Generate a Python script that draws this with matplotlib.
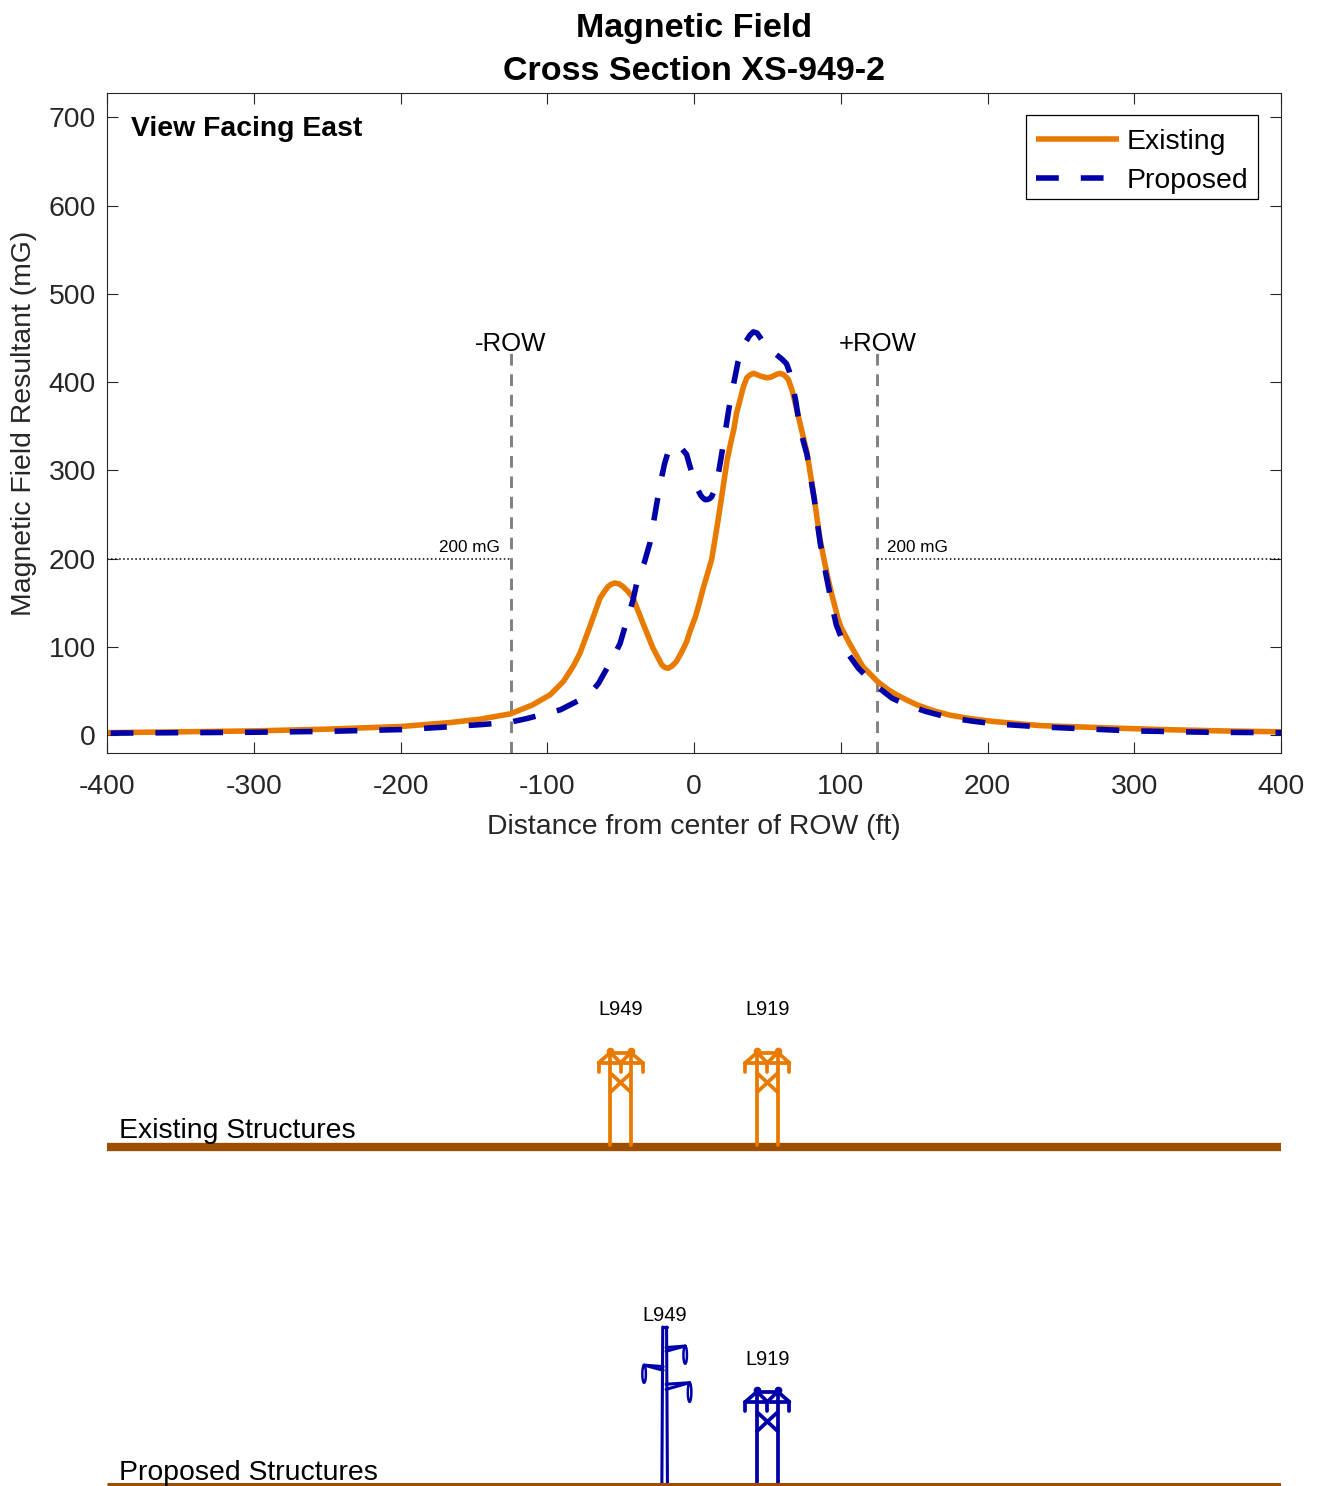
"""Magnetic field cross section XS-949-2 with structure elevations below."""

import matplotlib
matplotlib.use("Agg")
import matplotlib.pyplot as plt
from matplotlib.lines import Line2D
from matplotlib.patches import Ellipse, Rectangle

matplotlib.rcParams["font.family"] = ["Liberation Sans", "DejaVu Sans"]
matplotlib.rcParams["axes.unicode_minus"] = False

# profiles
existing_x = [-400, -350, -300, -250, -200, -166, -145, -125, -110, -98, -89, -82.4, -77.7, -71, -64, -61, -58.6, -56.5,
              -54, -51, -48.4, -45, -41.6, -34.8, -28, -22, -20, -17.6, -15, -12, -8.5, -5, -2.5, 0.7, 3.5, 6, 9, 12,
              14.5, 17, 20, 22.6, 25, 27.3, 29, 31.4, 33.7, 36, 38, 40.4, 43, 45, 47, 49.7, 52, 54, 56.5, 58.7, 61.5,
              64.3, 67, 69, 73, 75, 77, 79.5, 82, 84, 86, 88.5, 91, 93.5, 96, 98, 100, 106, 115, 125, 132, 138, 145,
              152, 163, 174, 188, 204, 236, 281, 320, 360, 400]
existing_y = [3, 4, 5, 7, 10, 14.5, 18.5, 24.4, 34.5, 46, 61, 78, 93, 123, 155.7, 163, 168.5, 171,
              172.5, 171.5, 168.5, 163, 155.7, 127, 99, 80, 77, 76, 78.5, 83.6, 94, 106, 119, 133, 149, 165, 182, 199,
              224, 250, 283, 312, 331, 348, 365, 380, 395, 405, 408, 410, 408.5, 407, 406, 405, 405.5, 407, 409, 410, 408,
              403, 390, 376, 348, 334, 320, 294, 268, 244, 221, 200, 180, 162, 146, 133, 123, 104, 78, 61, 52, 46, 40,
              34.5, 28, 23, 19, 15.7, 11, 8.5, 6.5, 5, 4]
proposed_x = [-400, -300, -250, -200, -175, -144, -125, -114, -100, -91, -84.5, -78, -72, -68, -65, -62, -58.6, -54,
              -50.4, -46.3, -41.6, -38.4, -34, -30, -25, -22.5, -20, -18, -16, -13.5, -11, -8, -5, -3, -1, 1, 3, 4.5, 6,
              7.5, 9, 10.5, 12, 13.5, 15, 17, 19, 21.5, 24, 27, 30, 32.5, 35, 38, 40.4, 43, 47, 50.7, 54, 57, 60, 63, 65,
              67, 69.5, 72, 74.5, 77, 79.5, 82, 84, 86, 89, 92, 94.5, 97, 101, 106, 112, 118.6, 122, 125, 135, 145, 158,
              174, 190, 205, 236, 266, 300, 350, 400]
proposed_y = [2.5, 3.5, 4.5, 6.5, 8.8, 12.3, 15, 19, 25, 29, 34.5, 40, 47, 53, 59, 68, 78, 92,
              104, 127, 153, 177, 195, 218, 266, 289, 308, 319, 327, 329, 328, 324, 318, 306, 295, 285, 277, 272, 269,
              267, 267, 268, 270, 276, 284, 300, 320, 346, 372, 398, 423, 436, 445, 453, 457, 455.6, 446, 438, 434, 430, 426, 421, 412,
              399, 377, 350, 333, 318, 292, 267, 241, 218, 190, 165, 143, 125, 108, 90, 76, 65, 59, 55, 42, 34.5, 27,
              20, 16, 13, 9.6, 7.4, 5, 3.5, 3]

x_ticks = [-400, -300, -200, -100, 0, 100, 200, 300, 400]
y_ticks = [0, 100, 200, 300, 400, 500, 600, 700]
row_edges = [-125, 125]
row_labels = ["-ROW", "+ROW"]
limit_mg = 200

# lattice tower outline, feet from centre line and ground
lattice_segments = [
    ((-7, 0), (-7, 64)), ((7, 0), (7, 64)), ((-7, 62.5), (7, 62.5)),
    ((-15, 56), (15, 56)), ((-15, 56), (-7, 63)), ((15, 56), (7, 63)),
    ((-7, 63), (0, 56)), ((7, 63), (0, 56)),
    ((-7, 49), (7, 36)), ((7, 49), (-7, 36)),
    ((-15, 56), (-15, 50)), ((0, 56), (0, 50)), ((15, 56), (15, 50)),
]
lattice_nodes = [(-7, 64), (7, 64)]
# steel monopole with three arms
pole_segments = [
    ((-1.9, 0), (-1.3, 107)), ((1.9, 0), (1.3, 107)), ((-1.3, 107), (1.3, 107)),
    ((1, 93), (14, 94)), ((1, 90.5), (14, 94)),
    ((-1, 80), (-14, 81)), ((-1, 77.5), (-14, 81)),
    ((1, 68), (17, 69)), ((1, 64.5), (17, 69)),
]
pole_insulators = [(14, 88, 12), (-14, 75, 12), (17, 62.5, 13)]

existing_towers = [-50, 50]
proposed_lattice = [50]
proposed_pole = [-20]

orange = "#e87a00"
blue = "#0000a8"
ground = "#9c4f00"
dark = "#262626"

W, H = 1317, 1486
FT = 1174 / 800  # px per foot in the lower panels


def px_axes(left, top, right, bottom):
    return fig.add_axes([left / W, 1 - bottom / H, (right - left) / W, (bottom - top) / H])


def draw_lattice(ax, x0, color):
    for a, b in lattice_segments:
        ax.plot([x0 + a[0], x0 + b[0]], [a[1], b[1]], color=color, lw=2.7, solid_capstyle="round")
    for nx, ny in lattice_nodes:
        ax.plot(x0 + nx, ny, "o", color=color, ms=4.5)


def draw_pole(ax, x0, color):
    for a, b in pole_segments:
        ax.plot([x0 + a[0], x0 + b[0]], [a[1], b[1]], color=color, lw=2.2, solid_capstyle="round")
    for ix, iy, ih in pole_insulators:
        ax.add_patch(Ellipse((x0 + ix, iy), 2.4, ih, fill=False, ec=color, lw=1.8))


def structure_panel(top, ground_px, bottom):
    ax = px_axes(107, top, 1281, bottom)
    ax.set_xlim(-400, 400)
    ax.set_ylim((ground_px - bottom) / FT, (ground_px - top) / FT)
    ax.axis("off")
    return ax


fig = plt.figure(figsize=(W / 100, H / 100), dpi=100)

ax = px_axes(107, 93, 1281, 753)
ax.set_xlim(-400, 400)
ax.set_ylim(-20, 727.5)

for edge, label in zip(row_edges, row_labels):
    ax.plot([edge, edge], [-20, 433], color="#808080", lw=2.1, ls=(0, (4, 3)))
    ax.text(edge, 429.5, label, ha="center", va="bottom", fontsize=18.5, color="black")
ax.plot([-400, row_edges[0]], [limit_mg, limit_mg], color="black", lw=1.1, ls=":")
ax.plot([row_edges[1], 400], [limit_mg, limit_mg], color="black", lw=1.1, ls=":")
ax.text(-153, 204, "200 mG", ha="center", va="bottom", fontsize=12.3)
ax.text(152, 204, "200 mG", ha="center", va="bottom", fontsize=12.3)

ax.plot(existing_x, existing_y, color=orange, lw=4, solid_joinstyle="round")
ax.plot(proposed_x, proposed_y, color=blue, lw=4, ls=(7.4, (4.1, 3.96)))

ax.text(24 / 1174, 0.946, "View Facing East", transform=ax.transAxes, fontsize=20.4,
        fontweight="bold", ha="left", va="center")

ax.set_xticks(x_ticks)
ax.set_yticks(y_ticks)
ax.tick_params(direction="in", length=8, width=0.8, labelsize=20.4, colors=dark, top=True, right=True)
ax.tick_params(axis="x", pad=15)
ax.tick_params(axis="y", pad=8)
for s in ax.spines.values():
    s.set_linewidth(0.8)
    s.set_color(dark)
ax.set_xlabel("Distance from center of ROW (ft)", fontsize=20.4, color=dark, labelpad=10)
ax.set_ylabel("Magnetic Field Resultant (mG)", fontsize=20.4, color=dark, labelpad=8)
ax.set_title("Magnetic Field\nCross Section XS-949-2", fontsize=24.5, fontweight="bold", pad=9, linespacing=1.5)

# legend box drawn apart so the entries can sit low in it like the reference
ax.add_patch(Rectangle((1 - 255 / 1174, 1 - 106 / 660), 232 / 1174, 84 / 660, transform=ax.transAxes,
                       fc="white", ec="black", lw=0.9, zorder=4))
handles = [Line2D([], [], color=orange, lw=4, solid_capstyle="butt"),
           Line2D([], [], color=blue, lw=4, ls=(0, (4.1, 3.96)))]
leg = ax.legend(handles, ["Existing", "Proposed"], loc="upper right", bbox_to_anchor=(1 - 23 / 1174, 1 - 26 / 660),
                borderaxespad=0, fontsize=20.4, frameon=False, handlelength=2.93, labelspacing=0.46,
                handletextpad=0.28, borderpad=0.35)
leg.set_zorder(5)

# existing structures
ax_e = structure_panel(960, 1145, 1160)
ax_e.plot([-400, 400], [-1.2, -1.2], color=ground, lw=6, solid_capstyle="butt")
for x0 in existing_towers:
    draw_lattice(ax_e, x0, orange)
ax_e.text(-50, 92, "L949", ha="center", va="center", fontsize=14.4)
ax_e.text(50, 92, "L919", ha="center", va="center", fontsize=14.4)
ax_e.text(-392, 9.5, "Existing Structures", ha="left", va="center", fontsize=20.4)

# proposed structures
ax_p = structure_panel(1280, 1484, 1486)
for x0 in proposed_lattice:
    draw_lattice(ax_p, x0, blue)
for x0 in proposed_pole:
    draw_pole(ax_p, x0, blue)
ax_p.plot([-400, 400], [0, 0], color=ground, lw=2.2, solid_capstyle="butt")
ax_p.text(-20, 115, "L949", ha="center", va="center", fontsize=14.4)
ax_p.text(50, 85, "L919", ha="center", va="center", fontsize=14.4)
ax_p.text(-392, 7.5, "Proposed Structures", ha="left", va="center", fontsize=20.4)

fig.savefig("out.png", dpi=100)
print("out.png created")
